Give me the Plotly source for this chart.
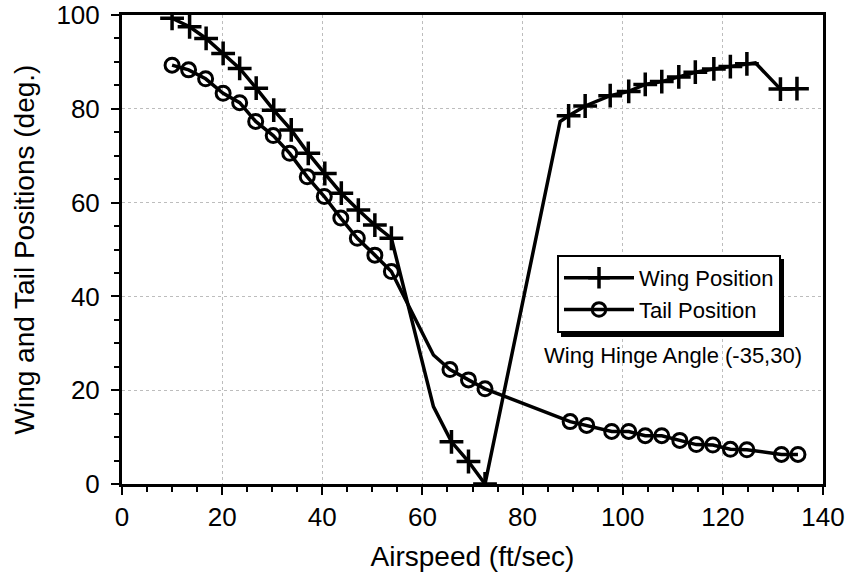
import plotly.graph_objects as go

# Wing position data (all vertices; marked flags where a "+" is drawn)
wing_x = [10, 13.5, 16.8, 20.2, 23.5, 26.8, 30.3, 33.8, 37.2, 40.5, 43.8, 47.2, 50.5, 53.8,
          62.2, 65.8, 69.2, 72.5, 87.5, 89.2, 92.5, 97.5, 101.2, 104.5, 107.8, 111.2, 114.5,
          118.2, 121.5, 124.8, 126.5, 131.5, 134.8]
wing_y = [99.3, 97.5, 95.0, 91.8, 88.6, 84.4, 79.7, 75.5, 70.5, 66.2, 62.0, 58.4, 55.2, 52.4,
          16.5, 9.0, 4.8, 0.0, 77.3, 78.5, 80.6, 82.8, 83.7, 85.2, 85.8, 86.8, 87.8,
          88.5, 89.0, 89.6, 89.8, 84.2, 84.3]
wing_marked = [1]*14 + [0, 1, 1, 1, 0] + [1]*11 + [0, 1, 1]

# Tail position data
tail_x = [10, 13.3, 16.7, 20.2, 23.5, 26.7, 30.2, 33.5, 37.0, 40.4, 43.7, 47.0, 50.5, 53.8,
          62.2, 65.5, 69.2, 72.5, 89.5, 92.8, 97.8, 101.2, 104.5, 107.8, 111.4, 114.7, 118.0,
          121.5, 124.8, 131.7, 135.0]
tail_y = [89.3, 88.3, 86.4, 83.3, 81.3, 77.3, 74.3, 70.5, 65.5, 61.3, 56.7, 52.4, 48.8, 45.3,
          27.5, 24.4, 22.2, 20.3, 13.3, 12.5, 11.2, 11.2, 10.3, 10.3, 9.3, 8.4, 8.3,
          7.4, 7.3, 6.3, 6.3]
tail_marked = [1]*14 + [0] + [1]*16

x_ticks = [0, 20, 40, 60, 80, 100, 120, 140]
y_ticks = [0, 20, 40, 60, 80, 100]

FONT = "Liberation Sans, Arial, sans-serif"

fig = go.Figure()
fig.add_trace(go.Scatter(
    x=wing_x, y=wing_y, mode="lines+markers", name="Wing Position",
    line=dict(color="black", width=3.5),
    marker=dict(symbol="cross-thin", size=[17 if m else 0 for m in wing_marked], opacity=1,
                line=dict(color="black", width=3.5), color="black"),
))
fig.add_trace(go.Scatter(
    x=tail_x, y=tail_y, mode="lines+markers", name="Tail Position",
    line=dict(color="black", width=3.5),
    marker=dict(symbol="circle-open", size=[14 if m else 0 for m in tail_marked], opacity=1,
                line=dict(color="black", width=3), color="black"),
))

axis_common = dict(
    showline=True, linecolor="black", linewidth=3, mirror=True, automargin=False,
    showgrid=True, gridcolor="#bdbdbd", griddash="dot", gridwidth=1,
    zeroline=False, ticks="outside", ticklen=8, tickwidth=1.5, tickcolor="black",
    tickfont=dict(family=FONT, size=26, color="black"),
    minor=dict(dtick=5, ticks="outside", ticklen=5, tickwidth=1.5, tickcolor="black", showgrid=False),
)

fig.update_xaxes(range=[0, 140], tickvals=x_ticks, dtick=20,
                 title=dict(text="Airspeed (ft/sec)", font=dict(family=FONT, size=28, color="black"), standoff=16),
                 **axis_common)
fig.update_yaxes(range=[0, 100], tickvals=y_ticks, dtick=20, ticklabelstandoff=6,
                 title=dict(text="Wing and Tail Positions (deg.)", font=dict(family=FONT, size=28, color="black"), standoff=14),
                 **axis_common)

# legend shadow
fig.add_shape(type="rect", xref="paper", yref="paper",
              x0=(561 - 122) / 701, x1=(784 - 122) / 701,
              y0=(484 - 337) / 469, y1=(484 - 259) / 469,
              fillcolor="black", line=dict(width=0), layer="above")

fig.update_layout(
    width=848, height=580,
    margin=dict(l=122, r=25, t=15, b=96),
    plot_bgcolor="white", paper_bgcolor="white",
    font=dict(family=FONT, color="black"),
    showlegend=True,
    legend=dict(x=(557 - 122) / 701, y=(484 - 255) / 469, xanchor="left", yanchor="top",
                bgcolor="white", bordercolor="black", borderwidth=2,
                font=dict(family=FONT, size=22, color="black"),
                itemwidth=70, tracegroupgap=0),
    annotations=[dict(text="Wing Hinge Angle (-35,30)", x=(673 - 122) / 701, y=(484 - 355) / 469,
                      xref="paper", yref="paper", xanchor="center", yanchor="middle", showarrow=False,
                      font=dict(family=FONT, size=22, color="black"))],
)

fig.write_html("out.html")
